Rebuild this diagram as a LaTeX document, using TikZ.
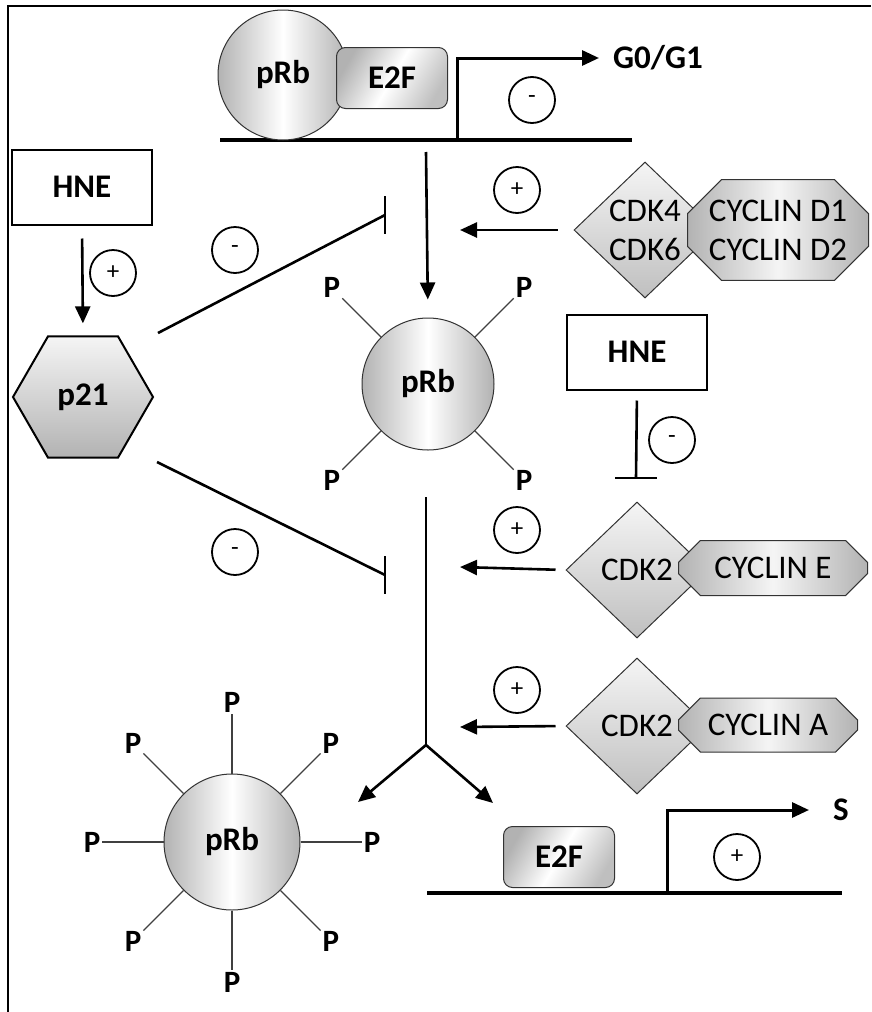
\documentclass[tikz,border=0pt]{standalone}
\usepackage{fontspec}
\setmainfont{Carlito}
\usetikzlibrary{arrows.meta,shapes.geometric,shapes.misc,calc}

\begin{document}
\begin{tikzpicture}[x=1pt, y=-1pt,
	lbl/.style={font=\fontsize{33}{39}\selectfont\bfseries},
	txt/.style={font=\fontsize{33}{39}\selectfont, align=center},
	pcirc/.style={circle, draw=black!80, line width=1pt, left color=gray!60, right color=gray!60, middle color=white, inner sep=0pt, lbl},
	e2fbox/.style={rectangle, rounded corners=9pt, draw=black!80, line width=1pt, left color=gray!60, right color=gray!50, middle color=white, shading angle=60, minimum width=111pt, minimum height=61pt, lbl},
	hnebox/.style={rectangle, draw, line width=2pt, minimum width=140pt, minimum height=75pt, fill=white, lbl},
	cdk/.style={diamond, draw=black!80, line width=1pt, top color=gray!8, bottom color=gray!50, minimum width=142pt, minimum height=136pt, inner sep=0pt, txt},
	cyc/.style={chamfered rectangle, draw=black!80, line width=1pt, left color=gray!60, right color=gray!60, middle color=gray!8, inner sep=0pt, txt},
	sign/.style={circle, draw, line width=1.8pt, minimum size=46pt, inner sep=0pt, font=\fontsize{25}{25}\selectfont},
	plab/.style={font=\fontsize{31}{31}\selectfont\bfseries, inner sep=2pt},
	plink/.style={draw=black!75, line width=1.3pt},
	gene/.style={line width=4pt},
	act/.style={line width=2.6pt, -{Triangle[length=17pt,width=15pt]}},
	inh/.style={line width=2.6pt},
	inhbar/.style={line width=2.6pt}]
	\useasboundingbox (0,0) rectangle (871,1012);
	% frame
	\draw[line width=2pt] (8,1012) -- (8,6) -- (871,6);

	% top: pRb-E2F on the G0/G1 gene
	\coordinate (g1a) at (220,140);
	\coordinate (g1b) at (632,140);
	\coordinate (tss1) at (457,140);
	\draw[gene] (g1a) -- (g1b);
	\node[pcirc, minimum size=130pt] (rb1) at (283,75) {pRb};
	\node[e2fbox] (e2f1) at (392,78) {E2F};
	\node[lbl, anchor=west, inner sep=0pt] (g0) at (613,58) {G0/G1};
	\draw[act, line width=3pt] (tss1) |- ([xshift=-14pt]g0.west);
	\node[sign] (s1) at (532,100) {-};

	% left: HNE -> p21
	\node[hnebox] (hne1) at (82,187) {HNE};
	\node[regular polygon, regular polygon sides=6, minimum size=140pt, inner sep=0pt, draw, line width=2pt, top color=gray!8, bottom color=gray!60, lbl] (p21) at (83,397) {p21};
	\draw[act, shorten <=13pt, shorten >=12pt] (hne1.south) -- (p21.north);
	\node[sign] (s2) at (113,273) {+};

	% phosphorylated pRb (4 P)
	\node[pcirc, minimum size=132pt] (rb2) at (428,384) {pRb};
	\foreach \a in {45,135,225,315} {
		\node[plab] (P2-\a) at ($(rb2)+(\a:136pt)$) {P};
		\draw[plink] (rb2.\a) -- (P2-\a);
	}
	\coordinate (c1) at (426,152);
	\draw[act, shorten >=18pt] (c1) -- (rb2.north);

	% CDK4/6 - cyclin D
	\node[cdk] (cdk46) at (645,230) {CDK4\\CDK6};
	\node[cyc, minimum width=181pt, minimum height=95pt, chamfered rectangle xsep=14pt, chamfered rectangle ysep=20pt] (cycD) at (778,230) {CYCLIN D1\\CYCLIN D2};
	\coordinate (t1) at (460,230);
	\draw[act, shorten <=16pt] (cdk46.west) -- (t1);
	\node[sign] (s3) at (517,190) {+};

	% p21 inhibitions
	\coordinate (i1s) at (158,333);
	\coordinate (i1e) at (385,215);
	\coordinate (i2s) at (157,462);
	\coordinate (i2e) at (385,575);
	\draw[inh] (i1s) -- (i1e);
	\draw[inhbar] (i1e) ++(0,-19) -- ++(0,38);
	\draw[inh] (i2s) -- (i2e);
	\draw[inhbar] (i2e) ++(0,-19) -- ++(0,38);
	\node[sign] (s4) at (235,250) {-};
	\node[sign] (s5) at (235,552) {-};

	% right HNE inhibition
	\node[hnebox] (hne2) at (637,352) {HNE};
	\coordinate (h2e) at (636,478);
	\draw[inh, shorten <=10pt] (hne2.south) -- (h2e);
	\draw[inhbar] (h2e) ++(-21,0) -- ++(42,0);
	\node[sign] (s6) at (672,440) {-};

	% CDK2 - cyclin E / A
	\node[cdk] (cdk2e) at (637,570) {CDK2};
	\node[cyc, minimum width=189pt, minimum height=55pt, chamfered rectangle xsep=11pt, chamfered rectangle ysep=11pt] (cycE) at (773,568) {CYCLIN E};
	\node[cdk] (cdk2a) at (637,726) {CDK2};
	\node[cyc, minimum width=179pt, minimum height=54pt, chamfered rectangle xsep=11pt, chamfered rectangle ysep=11pt] (cycA) at (768,725) {CYCLIN A};
	\coordinate (t2) at (460,567);
	\coordinate (t3) at (460,727);
	\draw[act, shorten <=10pt] (cdk2e.west) -- (t2);
	\draw[act, shorten <=10pt] (cdk2a.west) -- (t3);
	\node[sign] (s7) at (517,530) {+};
	\node[sign] (s8) at (517,690) {+};

	% split to hyperphosphorylated pRb and free E2F
	\coordinate (v2) at (426,497);
	\coordinate (jn) at (426,745);
	\coordinate (to1) at (358,802);
	\coordinate (to2) at (493,803);
	\draw[line width=2.6pt] (v2) -- (jn);
	\draw[act] (jn) -- (to1);
	\draw[act] (jn) -- (to2);

	% hyperphosphorylated pRb (8 P)
	\node[pcirc, minimum size=136pt] (rb3) at (232,842) {pRb};
	\foreach \a in {0,45,...,315} {
		\node[plab] (P3-\a) at ($(rb3)+(\a:140pt)$) {P};
		\draw[plink] (rb3.\a) -- (P3-\a);
	}

	% bottom: E2F on the S gene
	\coordinate (g2a) at (427,893);
	\coordinate (g2b) at (842,893);
	\coordinate (tss2) at (667,893);
	\draw[gene] (g2a) -- (g2b);
	\node[e2fbox] (e2f2) at (559,857) {E2F};
	\node[lbl, anchor=west, inner sep=0pt] (sph) at (833,810) {S};
	\draw[act, line width=3pt] (tss2) |- ([xshift=-24pt]sph.west);
	\node[sign] (s9) at (737,857) {+};
\end{tikzpicture}
\end{document}
